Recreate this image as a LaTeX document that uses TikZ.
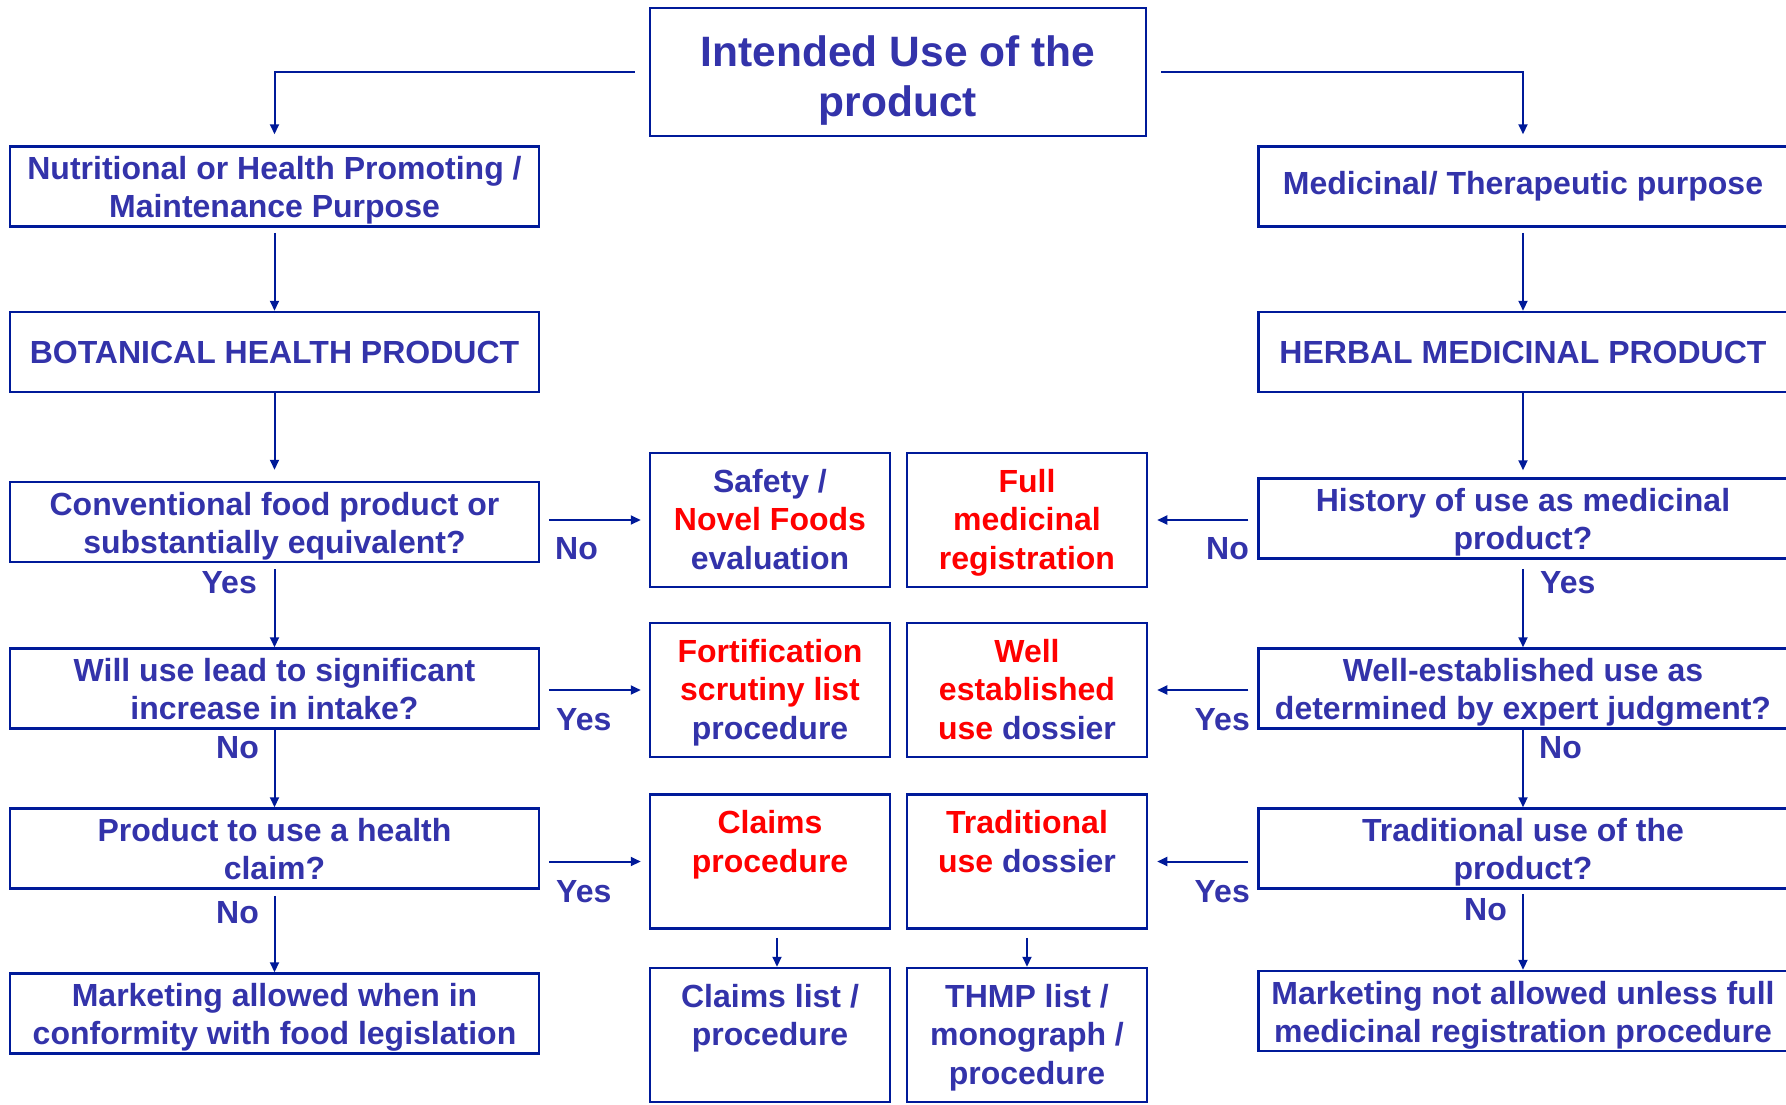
\documentclass[tikz,border=0pt]{standalone}
\usepackage{fontspec}
\setmainfont{Liberation Sans}
\usetikzlibrary{arrows.meta}
\definecolor{textblue}{RGB}{51,51,170}
\definecolor{lineblue}{RGB}{0,26,153}
\definecolor{alertred}{RGB}{255,0,0}
\newcommand{\boxfont}{\fontsize{32}{38.5}\selectfont\bfseries}
\newcommand{\titlefont}{\fontsize{42.5}{50}\selectfont\bfseries}
\newcommand{\toptext}[1]{\parbox[c][134pt][t]{238pt}{\centering\rule{0pt}{39pt}#1}}
\newcommand{\sidetext}[1]{\parbox[c][80pt][t]{525pt}{\fontsize{32}{38}\selectfont\centering\rule{0pt}{33pt}#1}}
\newcommand{\redtext}[1]{\textcolor{alertred}{#1}}
\begin{document}
\begin{tikzpicture}[
    box/.style={draw=lineblue, line width=2.5pt, text=textblue, font=\boxfont, inner sep=0pt},
    sidebox/.style={box, minimum width=529pt, minimum height=80pt},
    midbox/.style={box, minimum width=240pt, minimum height=134pt},
    flow/.style={draw=lineblue, line width=2pt, -{Triangle[length=10pt,width=9pt]}},
    answer/.style={text=textblue, font=\boxfont, inner sep=0pt}
]
    \useasboundingbox (0pt,0pt) rectangle (1786pt,-1104pt);
    \node[box, font=\titlefont, minimum width=496pt, minimum height=128pt] (intended) at (898pt, -72pt) {\parbox[c][128pt][t]{490pt}{\centering\rule{0pt}{58pt}Intended Use of the\\product}};
    \node[sidebox] (nutr) at (274.5pt, -186.5pt) {\sidetext{Nutritional or Health Promoting /\\Maintenance Purpose}};
    \node[sidebox] (botanical) at (274.5pt, -352pt) {BOTANICAL HEALTH PRODUCT};
    \node[sidebox] (conv) at (274.5pt, -522pt) {\sidetext{Conventional food product or\\substantially equivalent?}};
    \node[sidebox] (intake) at (274.5pt, -688.5pt) {\sidetext{Will use lead to significant\\increase in intake?}};
    \node[sidebox] (hclaim) at (274.5pt, -848.5pt) {\sidetext{Product to use a health\\claim?}};
    \node[sidebox] (mktallowed) at (274.5pt, -1013.5pt) {\sidetext{Marketing allowed when in\\conformity with food legislation}};
    \node[sidebox] (medicinal) at (1523pt, -186.5pt) {Medicinal/ Therapeutic purpose};
    \node[sidebox] (herbal) at (1523pt, -352pt) {HERBAL MEDICINAL PRODUCT};
    \node[sidebox] (history) at (1523pt, -518.5pt) {\sidetext{History of use as medicinal\\product?}};
    \node[sidebox] (expert) at (1523pt, -688.5pt) {\sidetext{Well-established use as\\determined by expert judgment?}};
    \node[sidebox] (tradq) at (1523pt, -848.5pt) {\sidetext{Traditional use of the\\product?}};
    \node[sidebox] (mktnot) at (1523pt, -1011pt) {\sidetext{Marketing not allowed unless full\\medicinal registration procedure}};
    \node[midbox] (novel) at (770pt, -520pt) {\toptext{Safety /\\\redtext{Novel Foods}\\evaluation}};
    \node[midbox] (fullreg) at (1027pt, -520pt) {\toptext{\redtext{Full\\medicinal\\registration}}};
    \node[midbox] (fortif) at (770pt, -690pt) {\toptext{\redtext{Fortification}\\\redtext{scrutiny list}\\procedure}};
    \node[midbox] (welluse) at (1027pt, -690pt) {\toptext{\redtext{Well}\\\redtext{established}\\\redtext{use} dossier}};
    \node[midbox] (claimsproc) at (770pt, -861.5pt) {\toptext{\redtext{Claims}\\\redtext{procedure}}};
    \node[midbox] (tradproc) at (1027pt, -861.5pt) {\toptext{\redtext{Traditional}\\\redtext{use} dossier}};
    \node[midbox] (claimslist) at (770pt, -1035pt) {\toptext{Claims list /\\procedure}};
    \node[midbox] (thmp) at (1027pt, -1035pt) {\toptext{THMP list /\\monograph /\\procedure}};
    \draw[flow] ([xshift=-14pt]intended.west) -| ([yshift=11pt]nutr.north);
    \draw[flow] ([xshift=14pt]intended.east) -| ([yshift=11pt]medicinal.north);
    \draw[flow] ([yshift=-5pt]nutr.south) -- (botanical.north);
    \draw[flow] (botanical.south) -- ([yshift=11pt]conv.north);
    \draw[flow] ([yshift=-6pt]conv.south) -- (intake.north);
    \draw[flow] (intake.south) -- (hclaim.north);
    \draw[flow] ([yshift=-6pt]hclaim.south) -- (mktallowed.north);
    \draw[flow] ([yshift=-5pt]medicinal.south) -- (herbal.north);
    \draw[flow] (herbal.south) -- ([yshift=7pt]history.north);
    \draw[flow] ([yshift=-9pt]history.south) -- (expert.north);
    \draw[flow] (expert.south) -- (tradq.north);
    \draw[flow] ([yshift=-4pt]tradq.south) -- (mktnot.north);
    \draw[flow] ([xshift=9pt]conv.east |- novel.west) -- ([xshift=-8pt]novel.west);
    \draw[flow] ([xshift=9pt]intake.east |- fortif.west) -- ([xshift=-8pt]fortif.west);
    \draw[flow] ([xshift=9pt]hclaim.east |- claimsproc.west) -- ([xshift=-8pt]claimsproc.west);
    \draw[flow] ([xshift=-9pt]history.west |- fullreg.east) -- ([xshift=9pt]fullreg.east);
    \draw[flow] ([xshift=-9pt]expert.west |- welluse.east) -- ([xshift=9pt]welluse.east);
    \draw[flow] ([xshift=-9pt]tradq.west |- tradproc.east) -- ([xshift=9pt]tradproc.east);
    \draw[flow] ([xshift=7pt,yshift=-8pt]claimsproc.south) -- ([xshift=7pt]claimslist.north);
    \draw[flow] ([yshift=-8pt]tradproc.south) -- (thmp.north);
    \node[answer, anchor=west] (convno) at (555pt, -549pt) {No};
    \node[answer, anchor=west] (intakeyes) at (556pt, -720pt) {Yes};
    \node[answer, anchor=west] (hclaimyes) at (556pt, -892pt) {Yes};
    \node[answer, anchor=east] (historyno) at (1249pt, -549pt) {No};
    \node[answer, anchor=east] (expertyes) at (1250pt, -720pt) {Yes};
    \node[answer, anchor=east] (tradqyes) at (1250pt, -892pt) {Yes};
    \node[answer, anchor=east] (convyes) at (257pt, -583pt) {Yes};
    \node[answer, anchor=east] (intakeno) at (259pt, -747.5pt) {No};
    \node[answer, anchor=east] (hclaimno) at (259pt, -913pt) {No};
    \node[answer, anchor=west] (historyyes) at (1540pt, -583pt) {Yes};
    \node[answer, anchor=west] (expertno) at (1539pt, -747.5pt) {No};
    \node[answer, anchor=east] (tradqno) at (1507pt, -910pt) {No};
\end{tikzpicture}
\end{document}
